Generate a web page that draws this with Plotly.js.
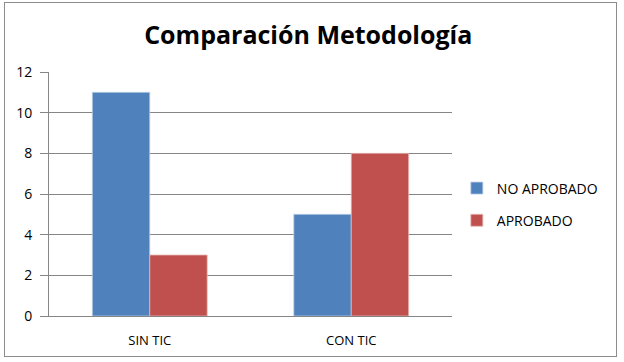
<!DOCTYPE html>
<html><head><meta charset="utf-8">
<script src="https://cdn.plot.ly/plotly-3.0.1.min.js"></script>
<style>
body{margin:0;padding:0;background:#fff;}
#wrap{position:relative;width:624px;height:362px;}
#chart{position:absolute;left:0;top:0;width:624px;height:362px;}
#frame{position:absolute;left:4px;top:2px;width:611px;height:353px;border:1.5px solid #8c8c8c;pointer-events:none;}
</style></head>
<body>
<div id="wrap"><div id="chart"></div><div id="frame"></div></div>
<script>
const categories = ['SIN TIC', 'CON TIC'];
const noAprobado = [11, 5];
const aprobado = [3, 8];
const seriesNames = ['NO APROBADO', 'APROBADO'];
const yTicks = [0, 2, 4, 6, 8, 10, 12];

const font = 'Open Sans, Liberation Sans, sans-serif';
const data = [
  {type:'bar', x:categories, y:noAprobado, name:seriesNames[0], legendgroup:'a',
   marker:{color:'#4F81BD', line:{color:'#B9CDE5', width:0.8}}},
  {type:'bar', x:categories, y:aprobado, name:seriesNames[1], legendgroup:'b',
   marker:{color:'#C0504D', line:{color:'#E6B9B8', width:0.8}}}
];
const layout = {
  width:624, height:362,
  margin:{l:49, r:172, t:72, b:46, pad:0},
  paper_bgcolor:'rgba(0,0,0,0)', plot_bgcolor:'#fff',
  title:{text:'<b>Comparación Metodología</b>', font:{family:font, size:25, color:'#000'},
         x:0.494, xanchor:'center', y:0.903, yanchor:'middle'},
  barmode:'group', bargap:0.43, bargroupgap:0,
  font:{family:font, size:13, color:'#000'},
  xaxis:{showline:true, linecolor:'#868686', linewidth:1, ticks:'', showgrid:false,
         tickfont:{size:13}, ticklabelstandoff:12},
  yaxis:{range:[0,12], tickvals:yTicks, showline:true, linecolor:'#868686', linewidth:1,
         ticks:'outside', ticklen:8, tickcolor:'#868686', gridcolor:'#868686', gridwidth:1,
         tickfont:{size:14}, zeroline:false, ticklabelstandoff:5},
  legend:{x:1.012, y:0.457, xanchor:'left', yanchor:'middle', font:{size:14},
          itemwidth:30, traceorder:'grouped', tracegroupgap:11, bgcolor:'rgba(0,0,0,0)'},
  showlegend:true
};
Plotly.newPlot('chart', data, layout, {displayModeBar:false, staticPlot:true});
</script>
</body></html>
